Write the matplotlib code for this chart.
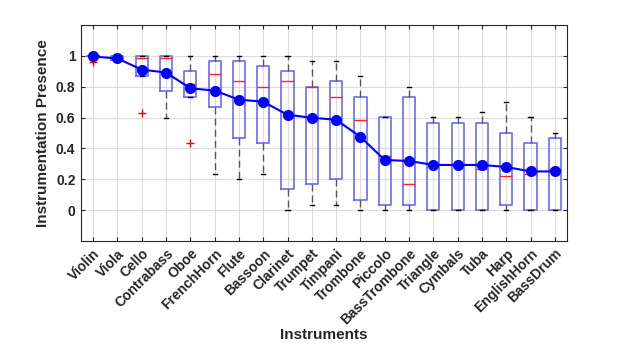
import matplotlib
matplotlib.use("Agg")
import matplotlib.pyplot as plt

plt.rcParams['font.family'] = ['Liberation Sans', 'DejaVu Sans']
plt.rcParams['font.weight'] = 'bold'

# per-instrument box statistics
instruments = ['Violin', 'Viola', 'Cello', 'Contrabass', 'Oboe', 'FrenchHorn',
               'Flute', 'Bassoon', 'Clarinet', 'Trumpet', 'Timpani', 'Trombone',
               'Piccolo', 'BassTrombone', 'Triangle', 'Cymbals', 'Tuba', 'Harp',
               'EnglishHorn', 'BassDrum']
medians = [1.0, 0.98, 0.985, 0.985, 0.818, 0.885, 0.835, 0.80, 0.835, 0.80,
           0.735, 0.586, 0.351, 0.169, 0.30, 0.30, 0.269, 0.219, 0.236, 0.269]
q1 = [1.0, 0.975, 0.867, 0.770, 0.735, 0.668, 0.47, 0.434, 0.137, 0.169,
      0.202, 0.067, 0.034, 0.034, 0.0, 0.0, 0.0, 0.034, 0.0, 0.0]
q3 = [1.0, 0.997, 1.0, 1.0, 0.90, 0.965, 0.965, 0.933, 0.90, 0.80,
      0.835, 0.735, 0.601, 0.735, 0.566, 0.566, 0.566, 0.501, 0.434, 0.469]
whisker_lo = [1.0, 0.975, 0.867, 0.599, 0.735, 0.234, 0.202, 0.234, 0.0, 0.034,
              0.034, 0.0, 0.0, 0.0, 0.0, 0.0, 0.0, 0.0, 0.0, 0.0]
whisker_hi = [1.0, 0.997, 1.0, 1.0, 1.0, 1.0, 1.0, 1.0, 1.0, 0.967,
              0.967, 0.868, 0.601, 0.80, 0.601, 0.601, 0.635, 0.703, 0.601, 0.501]
outliers = [[0.96], [], [0.629], [], [0.436], [], [], [], [], [],
            [], [], [], [], [], [], [], [], [], []]
means = [0.996, 0.983, 0.911, 0.892, 0.79, 0.775, 0.716, 0.703, 0.618, 0.599,
         0.586, 0.475, 0.325, 0.319, 0.293, 0.293, 0.293, 0.28, 0.251, 0.251]

stats = []
for i, name in enumerate(instruments):
    stats.append(dict(label=name, med=medians[i], q1=q1[i], q3=q3[i],
                      whislo=whisker_lo[i], whishi=whisker_hi[i],
                      fliers=outliers[i]))

fig = plt.figure(figsize=(6.2, 3.45), dpi=100)
ax = fig.add_axes([0.1306, 0.3014, 0.7839, 0.6261])

pos = list(range(1, len(instruments) + 1))
ax.bxp(stats, positions=pos, widths=0.5, capwidths=0.17, showfliers=True,
       boxprops=dict(color='#6a6aff', linewidth=1.2),
       medianprops=dict(color='#ff2020', linewidth=1.0),
       whiskerprops=dict(color='#555555', linewidth=1.0, linestyle=(0, (5, 3))),
       capprops=dict(color='black', linewidth=1.0),
       flierprops=dict(marker='+', markeredgecolor='red', markersize=6,
                       linestyle='none'),
       zorder=2)

ax.plot(pos, means, '-o', color='#0000ff', linewidth=1.5, markersize=7,
        zorder=3)

ax.set_xlim(0.5, 20.5)
ax.set_ylim(-0.2, 1.2)
ax.set_yticks([0, 0.2, 0.4, 0.6, 0.8, 1.0])
ax.set_yticklabels(['0', '0.2', '0.4', '0.6', '0.8', '1'], fontsize=10,
                   fontweight='bold', color='#262626')
ax.set_xticks(pos)
ax.set_xticklabels(instruments, rotation=45, ha='right',
                   rotation_mode='anchor', fontsize=10, fontweight='bold',
                   color='#262626')
ax.tick_params(direction='in', top=True, right=True, length=3,
               color='#262626', pad=4)
ax.grid(True, color='#dcdcdc', linewidth=0.8, zorder=0)
ax.set_axisbelow(True)
for sp in ax.spines.values():
    sp.set_color('#262626')

ax.set_xlabel('Instruments', fontsize=11, fontweight='bold', color='#262626')
ax.xaxis.set_label_coords(0.5, -0.405)
ax.set_ylabel('Instrumentation Presence', fontsize=11, fontweight='bold',
              color='#262626')

fig.savefig('out.png', dpi=100)
